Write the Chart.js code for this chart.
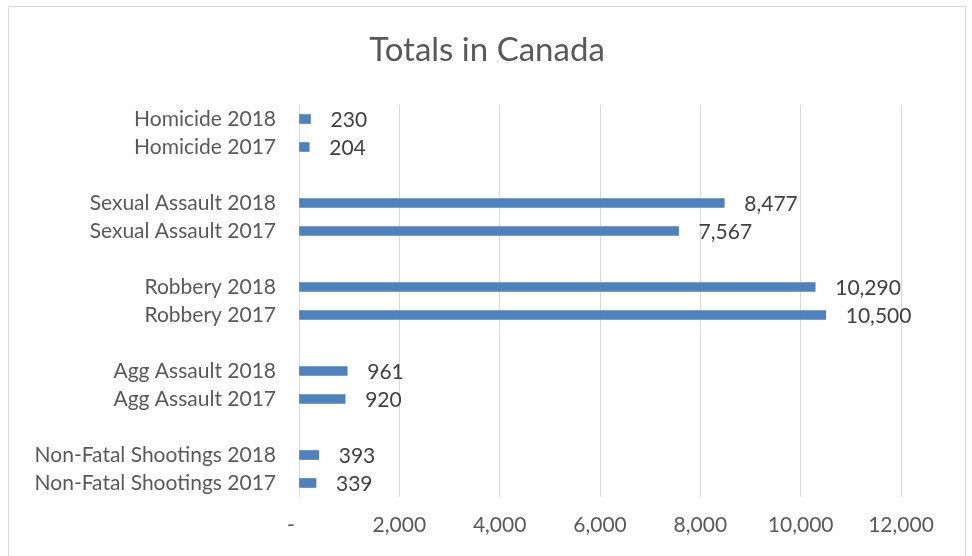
<!DOCTYPE html>
<html>
<head>
<meta charset="utf-8">
<script src="https://cdn.jsdelivr.net/npm/chart.js@4"></script>
<style>
  html, body { margin: 0; padding: 0; background: #fff; }
  #wrap { position: relative; width: 972px; height: 556px; overflow: hidden; }
  #frame { position: absolute; left: 8px; top: 6px; width: 956px; height: 600px; border: 1px solid #d9d9d9; }
  canvas { position: absolute; left: 0; top: 0; }
</style>
</head>
<body>
<div id="wrap">
  <div id="frame"></div>
  <canvas id="chart" width="972" height="556"></canvas>
</div>
<script>
// categories, top to bottom; blank rows keep the gaps between groups
const categories = [
  'Homicide 2018', 'Homicide 2017', '',
  'Sexual Assault 2018', 'Sexual Assault 2017', '',
  'Robbery 2018', 'Robbery 2017', '',
  'Agg Assault 2018', 'Agg Assault 2017', '',
  'Non-Fatal Shootings 2018', 'Non-Fatal Shootings 2017'
];
const totals = [
  230, 204, null,
  8477, 7567, null,
  10290, 10500, null,
  961, 920, null,
  393, 339
];
const xTicks = [0, 2000, 4000, 6000, 8000, 10000, 12000];
const chartTitle = 'Totals in Canada';

const FONT = 'Lato, "Open Sans", sans-serif';

// title centred on the whole chart, not just the plot area
const titleText = {
  id: 'titleText',
  afterDraw(chart) {
    const ctx = chart.ctx;
    ctx.save();
    ctx.font = '33px ' + FONT;
    ctx.fillStyle = '#595959';
    ctx.textAlign = 'center';
    ctx.textBaseline = 'middle';
    ctx.fillText(chartTitle, 487, 50);
    ctx.restore();
  }
};

// draw the value next to each bar
const valueLabels = {
  id: 'valueLabels',
  afterDatasetsDraw(chart) {
    const ctx = chart.ctx;
    const meta = chart.getDatasetMeta(0);
    ctx.save();
    ctx.font = '21px ' + FONT;
    ctx.fillStyle = '#404040';
    ctx.textAlign = 'left';
    ctx.textBaseline = 'middle';
    meta.data.forEach((bar, i) => {
      const v = totals[i];
      if (v == null) return;
      ctx.fillText(v.toLocaleString('en-US'), bar.x + 20, bar.y + 1);
    });
    ctx.restore();
  }
};

new Chart(document.getElementById('chart'), {
  type: 'bar',
  data: {
    labels: categories,
    datasets: [{
      data: totals,
      backgroundColor: '#4f81bd',
      barThickness: 9
    }]
  },
  options: {
    indexAxis: 'y',
    responsive: false,
    animation: false,
    layout: { padding: { left: 0, right: 71, top: 105, bottom: 0 } },
    plugins: {
      legend: { display: false },
      tooltip: { enabled: false },
      title: { display: false }
    },
    scales: {
      x: {
        min: 0,
        max: 12000,
        afterBuildTicks: scale => { scale.ticks = xTicks.map(v => ({ value: v })); },
        afterFit: scale => { scale.height = 59; },
        grid: { color: '#d9d9d9', drawTicks: false },
        border: { display: false },
        ticks: {
          color: '#595959',
          padding: 16,
          font: { family: FONT, size: 21 },
          // accounting style: zero shows as a dash
          callback: v => v === 0 ? '-   ' : v.toLocaleString('en-US')
        }
      },
      y: {
        afterFit: scale => { scale.width = 299; },
        grid: { display: false, drawTicks: false },
        border: { display: false },
        ticks: {
          autoSkip: false,
          color: '#595959',
          padding: 23,
          font: { family: FONT, size: 21 }
        }
      }
    }
  },
  plugins: [valueLabels, titleText]
});
</script>
</body>
</html>
